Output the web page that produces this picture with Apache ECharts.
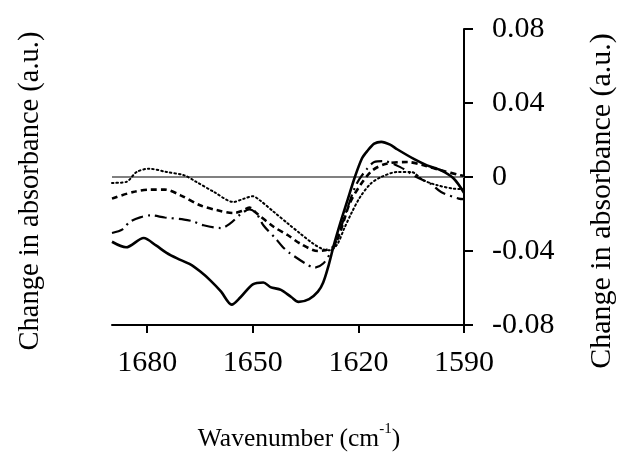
<!DOCTYPE html>
<html><head><meta charset="utf-8">
<script src="https://cdn.jsdelivr.net/npm/echarts@6/dist/echarts.min.js"></script>
<style>html,body{margin:0;padding:0;background:#fff}#c{width:625px;height:457px}</style>
</head><body><div id="c"></div>
<script>
// Tick labels
const xTicks = [1680, 1650, 1620, 1590];
const yTicks = [-0.08, -0.04, 0, 0.04, 0.08];

// Solid curve
const solidWn  = [1690, 1686, 1681, 1677.5, 1674.5, 1671.5, 1668, 1665, 1662, 1659, 1656, 1653.5, 1650, 1647, 1645, 1642, 1639, 1637, 1634, 1631.5, 1630, 1628.5, 1627, 1625, 1623, 1621, 1619, 1617.5, 1615.5, 1613.5, 1611, 1609, 1604, 1600.5, 1596.5, 1593, 1590];
const solidVal = [-0.035, -0.038, -0.033, -0.037, -0.041, -0.044, -0.047, -0.051, -0.056, -0.062, -0.069, -0.065, -0.058, -0.057, -0.0595, -0.061, -0.065, -0.0675, -0.066, -0.062, -0.057, -0.048, -0.037, -0.024, -0.012, 0.0, 0.010, 0.014, 0.018, 0.019, 0.0175, 0.015, 0.0095, 0.0063, 0.0036, -0.0007, -0.0085];

// Dashed curve
const dashWn  = [1690, 1684, 1679, 1675, 1670.5, 1665, 1660, 1655.5, 1653, 1651, 1649, 1644, 1640, 1636.5, 1631.5, 1629.5, 1627, 1625, 1622.5, 1619.5, 1616, 1612, 1606, 1601.5, 1596.5, 1591, 1590];
const dashVal = [-0.0117, -0.0081, -0.0068, -0.0068, -0.0099, -0.0153, -0.018, -0.0195, -0.0183, -0.0165, -0.0195, -0.027, -0.0315, -0.036, -0.040, -0.0396, -0.0375, -0.0288, -0.0144, -0.0045, 0.0036, 0.0072, 0.0081, 0.0063, 0.0036, 0.0009, 0.0005];

// Dash-dot curve
const dashDotWn  = [1690, 1687, 1685, 1682, 1679, 1675, 1669.5, 1667, 1664, 1659, 1656.5, 1653.5, 1651, 1649, 1647, 1643.5, 1641.5, 1639.5, 1635, 1632.5, 1630, 1627.5, 1626.5, 1623, 1620.5, 1617.5, 1615.5, 1613, 1608, 1603.5, 1599.5, 1596.5, 1591.5, 1590];
const dashDotVal = [-0.0303, -0.0283, -0.0243, -0.0218, -0.0207, -0.0219, -0.023, -0.024, -0.0261, -0.0276, -0.0252, -0.0202, -0.0175, -0.0196, -0.0261, -0.0333, -0.0378, -0.0411, -0.0468, -0.049, -0.0468, -0.0396, -0.0358, -0.0162, -0.0036, 0.0045, 0.0081, 0.0086, 0.0052, 0.0, -0.0036, -0.0081, -0.0117, -0.012];

// Dotted curve
const dotWn  = [1690, 1686, 1683, 1679.5, 1674.5, 1669.5, 1666, 1661, 1655.5, 1652.5, 1650, 1648, 1644, 1640, 1636.5, 1633, 1630, 1628, 1626, 1624, 1622, 1619.5, 1616.5, 1613.5, 1609, 1605, 1601.5, 1597.5, 1593, 1590];
const dotVal = [-0.0032, -0.0027, 0.0027, 0.0045, 0.0027, 0.0009, -0.0027, -0.0081, -0.0135, -0.0117, -0.0104, -0.0126, -0.0189, -0.0252, -0.0306, -0.0358, -0.0391, -0.0396, -0.0364, -0.0277, -0.0196, -0.0108, -0.0036, 0.0, 0.0027, 0.0027, -0.0018, -0.0045, -0.0063, -0.0066];

// Zero reference line
const zeroWn  = [1690, 1590];
const zeroVal = [0, 0];

const pairs = (xs, ys) => xs.map((x, i) => [x, ys[i]]);
const FONT = 'Liberation Serif';

const chart = echarts.init(document.getElementById('c'), null, {renderer: 'canvas'});
const lineSeries = (name, xs, ys, lineStyle, z) => ({
  name, type: 'line', data: pairs(xs, ys), symbol: 'none', smooth: 0.3,
  lineStyle: Object.assign({color: '#000'}, lineStyle), z, silent: true
});

chart.setOption({
  animation: false,
  backgroundColor: '#fff',
  grid: {left: 112, right: 161, top: 29, bottom: 132, containLabel: false},
  xAxis: {
    type: 'value', min: 1590, max: 1690, interval: 30, inverse: true, position: 'bottom',
    axisLine: {show: true, onZero: false, lineStyle: {color: '#000', width: 2}},
    axisTick: {show: true, length: 8, lineStyle: {color: '#000', width: 2}, customValues: xTicks},
    axisLabel: {customValues: xTicks, color: '#000', fontFamily: FONT, fontSize: 30, margin: 23,
      formatter: v => String(Math.round(v))},
    splitLine: {show: false}
  },
  yAxis: {
    type: 'value', min: -0.08, max: 0.08, interval: 0.04, position: 'right',
    axisLine: {show: true, onZero: false, lineStyle: {color: '#000', width: 2}},
    axisTick: {show: true, length: 9, lineStyle: {color: '#000', width: 2}, customValues: yTicks},
    axisLabel: {customValues: yTicks, color: '#000', fontFamily: FONT, fontSize: 30, margin: 28,
      formatter: v => Math.abs(v) < 1e-9 ? '0' : v.toFixed(2)},
    splitLine: {show: false}
  },
  graphic: [
    {type: 'text', x: 31, y: 191, rotation: Math.PI / 2,
     style: {text: 'Change in absorbance (a.u.)', font: '28.5px "Liberation Serif"', fill: '#000', align: 'center', verticalAlign: 'middle'}},
    {type: 'text', x: 602, y: 201, rotation: Math.PI / 2,
     style: {text: 'Change in absorbance (a.u.)', font: '30px "Liberation Serif"', fill: '#000', align: 'center', verticalAlign: 'middle'}},
    {type: 'text', x: 299, y: 437,
     style: {text: '{a|Wavenumber (cm}{s|-1}{a|)}', fill: '#000', align: 'center', verticalAlign: 'middle',
       rich: {a: {fontFamily: FONT, fontSize: 25.5, lineHeight: 30, verticalAlign: 'bottom'},
              s: {fontFamily: FONT, fontSize: 15, lineHeight: 30, verticalAlign: 'top'}}}}
  ],
  series: [
    lineSeries('zero', zeroWn, zeroVal, {color: '#808080', width: 2}, 1),
    lineSeries('dotted', dotWn, dotVal, {width: 2, type: [1.5, 3], cap: 'round'}, 2),
    lineSeries('dashed', dashWn, dashVal, {width: 2.6, type: [6, 4]}, 3),
    lineSeries('dashdot', dashDotWn, dashDotVal, {width: 2.2, type: [12, 5, 2, 5]}, 4),
    lineSeries('solid', solidWn, solidVal, {width: 2.6}, 5)
  ]
});
</script></body></html>
